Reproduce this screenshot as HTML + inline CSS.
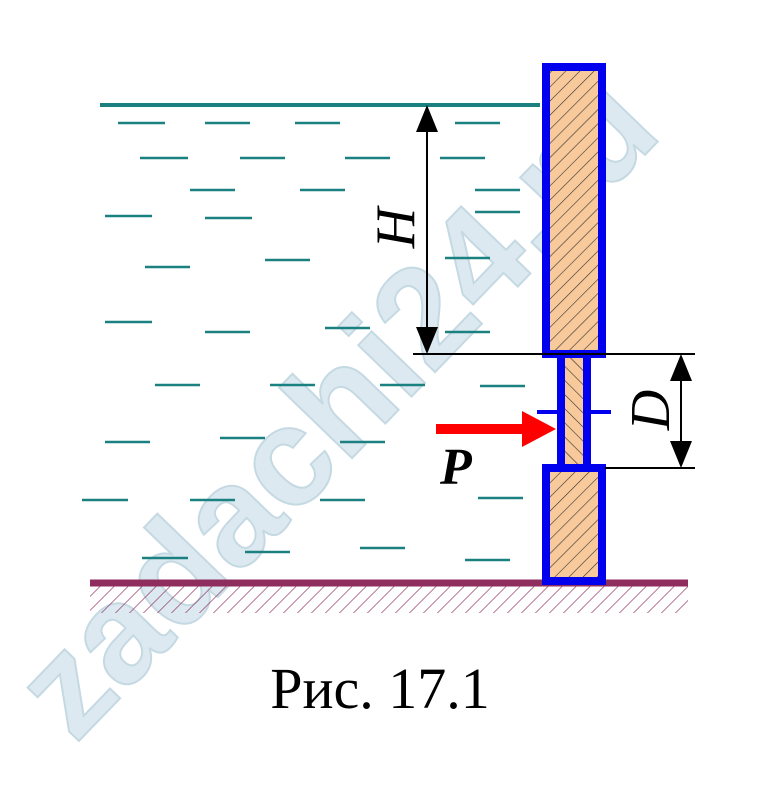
<!DOCTYPE html>
<html><head><meta charset="utf-8"><style>
body{margin:0;background:#fff;width:784px;height:782px;overflow:hidden}
</style></head><body>
<svg width="784" height="782" xmlns="http://www.w3.org/2000/svg">
<defs>
<pattern id="h" width="10" height="10" patternUnits="userSpaceOnUse" patternTransform="rotate(45)">
<rect width="10" height="10" fill="#f8c99b"/><line x1="0" y1="0" x2="0" y2="10" stroke="#333" stroke-width="1.2"/>
</pattern>
<pattern id="h2" width="10" height="10" patternUnits="userSpaceOnUse" patternTransform="rotate(-45)">
<rect width="10" height="10" fill="#f8c99b"/><line x1="0" y1="0" x2="0" y2="10" stroke="#333" stroke-width="1.2"/>
</pattern>
<pattern id="g" width="14" height="30" patternUnits="userSpaceOnUse" patternTransform="skewX(-45)">
<line x1="0" y1="0" x2="0" y2="30" stroke="#8e2d5e" stroke-width="1.8"/>
</pattern>
</defs>
<text x="0" y="0" transform="translate(75,745) rotate(-46)" font-family="Liberation Sans,sans-serif" font-weight="bold" font-size="140" fill="#dce9f0" stroke="#c5d9e3" stroke-width="2">zadachi24.ru</text>
<line x1="100" y1="105" x2="540" y2="105" stroke="#1a8080" stroke-width="4"/>
<g stroke="#1a8080" stroke-width="2.5">
<line x1="118" y1="123" x2="165" y2="123"/><line x1="205" y1="123" x2="250" y2="123"/><line x1="295" y1="123" x2="340" y2="123"/><line x1="455" y1="123" x2="500" y2="123"/>
<line x1="140" y1="158" x2="188" y2="158"/><line x1="240" y1="158" x2="285" y2="158"/><line x1="345" y1="158" x2="390" y2="158"/><line x1="440" y1="158" x2="485" y2="158"/>
<line x1="190" y1="190" x2="235" y2="190"/><line x1="300" y1="190" x2="345" y2="190"/><line x1="475" y1="190" x2="520" y2="190"/>
<line x1="105" y1="216" x2="152" y2="216"/><line x1="205" y1="218" x2="252" y2="218"/><line x1="475" y1="212" x2="520" y2="212"/>
<line x1="145" y1="267" x2="190" y2="267"/><line x1="265" y1="260" x2="310" y2="260"/><line x1="445" y1="258" x2="490" y2="258"/>
<line x1="105" y1="322" x2="152" y2="322"/><line x1="205" y1="332" x2="250" y2="332"/><line x1="325" y1="328" x2="370" y2="328"/><line x1="445" y1="332" x2="490" y2="332"/>
<line x1="155" y1="385" x2="200" y2="385"/><line x1="270" y1="385" x2="315" y2="385"/><line x1="380" y1="385" x2="425" y2="385"/><line x1="480" y1="386" x2="525" y2="386"/>
<line x1="105" y1="442" x2="150" y2="442"/><line x1="220" y1="438" x2="265" y2="438"/><line x1="340" y1="442" x2="385" y2="442"/>
<line x1="82" y1="500" x2="128" y2="500"/><line x1="190" y1="500" x2="235" y2="500"/><line x1="320" y1="500" x2="365" y2="500"/><line x1="478" y1="498" x2="523" y2="498"/>
<line x1="142" y1="558" x2="188" y2="558"/><line x1="245" y1="552" x2="290" y2="552"/><line x1="360" y1="548" x2="405" y2="548"/><line x1="465" y1="560" x2="510" y2="560"/>
</g>
<rect x="90" y="586" width="598" height="27" fill="url(#g)"/>
<line x1="90" y1="583" x2="688" y2="583" stroke="#8e2d5e" stroke-width="7"/>
<rect x="546" y="67" width="56" height="287" fill="url(#h)" stroke="#0000ee" stroke-width="8"/>
<rect x="561" y="354" width="26" height="114" fill="url(#h2)" stroke="#0000ee" stroke-width="8"/>
<rect x="546" y="468" width="56" height="113" fill="url(#h)" stroke="#0000ee" stroke-width="8"/>
<line x1="537" y1="412" x2="560" y2="412" stroke="#0000ee" stroke-width="4"/>
<line x1="588" y1="412" x2="611" y2="412" stroke="#0000ee" stroke-width="4"/>
<g stroke="#000" stroke-width="2">
<line x1="413" y1="354" x2="695" y2="354"/><line x1="605" y1="468" x2="695" y2="468"/>
<line x1="427" y1="110" x2="427" y2="350"/><line x1="681" y1="358" x2="681" y2="464"/>
</g>
<polygon points="427,105 416,132 438,132" fill="#000"/><polygon points="427,354 416,327 438,327" fill="#000"/>
<polygon points="681,354 670,381 692,381" fill="#000"/><polygon points="681,468 670,441 692,441" fill="#000"/>
<line x1="436" y1="429" x2="525" y2="429" stroke="#f00" stroke-width="10"/>
<polygon points="556,429 522,411 522,447" fill="#f00"/>
<text x="440" y="484" font-family="Liberation Serif,serif" font-style="italic" font-weight="bold" font-size="52">P</text>
<text transform="translate(414,228) rotate(-90)" text-anchor="middle" font-family="Liberation Serif,serif" font-style="italic" font-size="56">H</text>
<text transform="translate(669,410) rotate(-90)" text-anchor="middle" font-family="Liberation Serif,serif" font-style="italic" font-size="56">D</text>
<text x="380" y="708" text-anchor="middle" font-family="Liberation Serif,serif" font-size="58">Рис. 17.1</text>
</svg>
</body></html>
